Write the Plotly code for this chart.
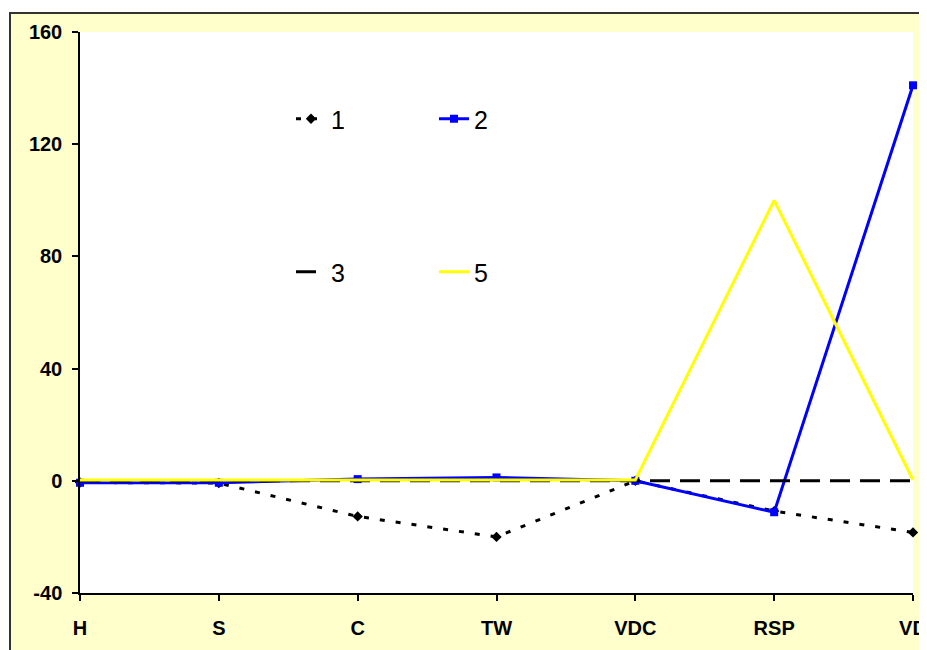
import plotly.graph_objects as go

categories = ["H", "S", "C", "TW", "VDC", "RSP", "VD"]
series1 = [-0.6, -0.8, -12.7, -20.0, 0.0, -10.8, -18.4]
series2 = [-0.7, -0.7, 0.6, 1.2, 0.0, -11.2, 141.0]
series3 = [0, 0, 0, 0, 0, 0, 0]
series5 = [0.3, 0.3, 0.3, 0.3, 0.3, 100.0, 0.3]
y_ticks = [-40, 0, 40, 80, 120, 160]
y_ticktext = ["-40", "0", "40", "80", "120", "160"]

xi = list(range(len(categories)))

fig = go.Figure()
fig.add_trace(go.Scatter(
    x=xi, y=series1, name="1", mode="lines+markers", cliponaxis=False,
    line=dict(color="black", width=3, dash="5px,11px"),
    marker=dict(symbol="diamond", size=8, color="black"),
    legend="legend",
))
fig.add_trace(go.Scatter(
    x=xi, y=series2, name="2", mode="lines+markers", cliponaxis=False,
    line=dict(color="#0000FF", width=3),
    marker=dict(symbol="square", size=8, color="#0000FF"),
    legend="legend2",
))
fig.add_trace(go.Scatter(
    x=xi, y=series3, name="3", mode="lines", cliponaxis=False,
    line=dict(color="black", width=3, dash="20px,10px"),
    legend="legend3",
))
fig.add_trace(go.Scatter(
    x=xi, y=series5, name="5", mode="lines", cliponaxis=False,
    line=dict(color="#FFFF00", width=3),
    legend="legend4",
))

# page offset (browser body margin)
OFF = 8
W, H = 927 - OFF, 650 - OFF
# plot area in screen pixels
PL, PR, PT, PB = 80, 913, 32, 593
L, T = PL - OFF, PT - OFF
R, B = W - (PR - OFF), H - (PB - OFF)
pw = PR - PL
ph = PB - PT

def px(x):
    return (x - PL) / pw

def py(y):
    return (PB - y) / ph

legfont = dict(family="Liberation Sans, Arial, sans-serif", size=25, color="black")
def leg(xp, yp):
    return dict(x=px(xp), y=py(yp), xanchor="left", yanchor="middle",
                bgcolor="rgba(0,0,0,0)", font=legfont, borderwidth=0)

tickfont = dict(family="Liberation Sans, Arial, sans-serif", size=20, color="black", weight="bold")

fig.update_layout(
    width=W, height=H,
    margin=dict(l=L, r=R, t=T, b=B, pad=0, autoexpand=False),
    paper_bgcolor="white",
    plot_bgcolor="rgba(0,0,0,0)",
    showlegend=True,
    legend=leg(291, 119),
    legend2=leg(434, 119),
    legend3=leg(291, 272),
    legend4=leg(434, 272),
    shapes=[
        dict(type="rect", xref="paper", yref="paper",
             x0=px(10), x1=px(W + 40), y0=py(H + 40), y1=py(13),
             fillcolor="#FFFFCC", line=dict(color="#333333", width=2), layer="below"),
        dict(type="rect", xref="paper", yref="paper",
             x0=0, x1=1, y0=0, y1=1,
             fillcolor="white", line=dict(width=0), layer="below"),
    ],
    xaxis=dict(
        range=[0, len(categories) - 1],
        tickmode="array", tickvals=xi, ticktext=categories,
        automargin=False,
        showgrid=False, zeroline=False,
        showline=True, linecolor="black", linewidth=1.5,
        ticks="outside", ticklen=6, tickcolor="black", tickwidth=1.5,
        ticklabelstandoff=10,
        tickfont=tickfont,
    ),
    yaxis=dict(
        range=[-40, 160],
        tickmode="array", tickvals=y_ticks, ticktext=y_ticktext,
        automargin=False,
        showgrid=False, zeroline=False,
        showline=True, linecolor="black", linewidth=1.5,
        ticks="outside", ticklen=6, tickcolor="black", tickwidth=1.5,
        ticklabelstandoff=6,
        tickfont=tickfont,
    ),
)

fig.write_html("out.html")
